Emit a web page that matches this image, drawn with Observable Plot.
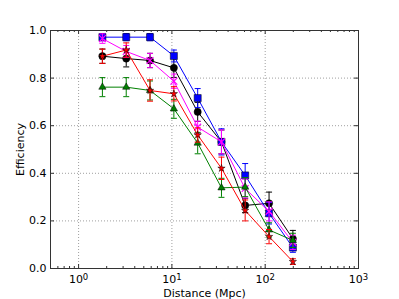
<!DOCTYPE html>
<html>
<head>
<meta charset="utf-8">
<script src="https://cdn.jsdelivr.net/npm/d3@7"></script>
<script src="https://cdn.jsdelivr.net/npm/@observablehq/plot@0.6"></script>
<style>
  html, body { margin: 0; padding: 0; background: #fff; }
  #chart svg { display: block; }
</style>
</head>
<body>
<div id="chart"></div>
<script>
// Distances (Mpc)
const distances = [1.8, 3.24, 5.83, 10.5, 18.9, 34, 61, 110, 198];

// Series values (efficiency) and error bars
const blueVals    = [0.972, 0.972, 0.972, 0.893, 0.716, 0.532, 0.391, 0.232, 0.088];
const blueErr     = [0.015, 0.015, 0.015, 0.025, 0.04, 0.055, 0.05, 0.045, 0.02];
const blackVals   = [0.892, 0.882, 0.874, 0.843, 0.658, 0.532, 0.265, 0.274, 0.125];
const blackErr    = [0.03, 0.035, 0.03, 0.04, 0.04, 0.05, 0.03, 0.047, 0.035];
const magentaVals = [0.966, 0.912, 0.874, 0.787, 0.594, 0.532, 0.336, 0.24, 0.11];
const magentaErr  = [0.02, 0.025, 0.03, 0.03, 0.025, 0.05, 0.04, 0.04, 0.03];
const greenVals   = [0.762, 0.762, 0.748, 0.671, 0.527, 0.339, 0.342, 0.162, 0.118];
const greenErr    = [0.04, 0.04, 0.04, 0.04, 0.045, 0.04, 0.04, 0.03, 0.03];
const redVals     = [0.892, 0.918, 0.748, 0.734, 0.561, 0.421, 0.244, 0.134, 0.029];
const redErr      = [0.03, 0.03, 0.045, 0.03, 0.03, 0.047, 0.044, 0.03, 0.012];

// Tick values
const xMajorTicks = [1, 10, 100, 1000];
const xMinorTicks = [0.6, 0.7, 0.8, 0.9, 2, 3, 4, 5, 6, 7, 8, 9, 20, 30, 40, 50, 60, 70, 80, 90, 200, 300, 400, 500, 600, 700, 800, 900];
const yTicks = [0, 0.2, 0.4, 0.6, 0.8, 1.0];
const xGrid = [1, 10, 100];
const yGrid = [0.2, 0.4, 0.6, 0.8];
const xTickExponents = ["0", "1", "2", "3"];

const series = [
  {name: "black",   color: "#000000", symbol: "circle",   r: 3.6, fill: "#000000", vals: blackVals,   err: blackErr},
  {name: "blue",    color: "#0000ff", symbol: "square",   r: 4.0, fill: "#0000ff", vals: blueVals,    err: blueErr},
  {name: "magenta", color: "#ff00ff", symbol: "times",    r: 3.2, fill: "none",    vals: magentaVals, err: magentaErr},
  {name: "green",   color: "#008000", symbol: "triangle", r: 2.7, fill: "#008000", vals: greenVals,   err: greenErr},
  {name: "red",     color: "#ff0000", symbol: "star",     r: 2.3, fill: "#ff0000", vals: redVals,     err: redErr}
];

const capSymbol = {
  draw(ctx, size) {
    const w = 3;
    ctx.moveTo(-w, 0);
    ctx.lineTo(w, 0);
  }
};

const W = 399, H = 299;
const mL = 50, mR = 41, mT = 30, mB = 31;
const fw = W - mL - mR, fh = H - mT - mB;

const marks = [
  Plot.ruleX(xGrid, {x: d => d, stroke: "#888", strokeDasharray: "1,2", strokeWidth: 0.8}),
  Plot.ruleY(yGrid, {y: d => d, stroke: "#888", strokeDasharray: "1,2", strokeWidth: 0.8}),
  // inward ticks
  Plot.ruleX(xMajorTicks, {x: d => d, insetTop: fh - 4, stroke: "#333"}),
  Plot.ruleX(xMajorTicks, {x: d => d, insetBottom: fh - 4, stroke: "#333"}),
  Plot.ruleX(xMinorTicks, {x: d => d, insetTop: fh - 2, stroke: "#333"}),
  Plot.ruleX(xMinorTicks, {x: d => d, insetBottom: fh - 2, stroke: "#333"}),
  Plot.ruleY(yTicks, {y: d => d, insetRight: fw - 4, stroke: "#333"}),
  Plot.ruleY(yTicks, {y: d => d, insetLeft: fw - 4, stroke: "#333"}),
  Plot.axisX({ticks: xMajorTicks, tickSize: 0, tickPadding: 7,
    tickFormat: d => "10^" + xTickExponents[Math.round(Math.log10(d))],
    label: "Distance (Mpc)", labelAnchor: "center", labelArrow: "none", labelOffset: 28}),
  Plot.axisY({ticks: yTicks, tickSize: 0, tickPadding: 4,
    tickFormat: d3.format(".1f"),
    label: "Efficiency", labelAnchor: "center", labelArrow: "none", labelOffset: 34})
];

for (const s of series) {
  const rows = distances.map((x, i) => ({x, y: s.vals[i], lo: s.vals[i] - s.err[i], hi: s.vals[i] + s.err[i]}));
  marks.push(
    Plot.ruleX(rows, {x: "x", y1: "lo", y2: "hi", stroke: s.color, strokeWidth: 1}),
    Plot.dot(rows, {x: "x", y: "lo", symbol: capSymbol, stroke: s.color, strokeWidth: 1, r: 3}),
    Plot.dot(rows, {x: "x", y: "hi", symbol: capSymbol, stroke: s.color, strokeWidth: 1, r: 3}),
    Plot.line(rows, {x: "x", y: "y", stroke: s.color, strokeWidth: 1}),
    Plot.dot(rows, {x: "x", y: "y", symbol: s.symbol, r: s.r,
      fill: s.fill,
      stroke: s.fill === "none" ? s.color : "#000",
      strokeWidth: s.fill === "none" ? 1.2 : 0.5})
  );
}

marks.push(Plot.frame({stroke: "#333", strokeWidth: 1}));

const chart = Plot.plot({
  width: W, height: H,
  marginLeft: mL, marginRight: mR, marginTop: mT, marginBottom: mB,
  style: {fontFamily: "DejaVu Sans", fontSize: "11px", color: "#000", background: "#fff"},
  x: {type: "log", domain: [0.5, 1000]},
  y: {domain: [0, 1]},
  marks
});

// Render x tick labels as 10 with a raised exponent
d3.select(chart).selectAll("text").each(function() {
  const t = this.textContent;
  const m = /^10\^(\d)$/.exec(t);
  if (m && this.children.length === 0) {
    const sel = d3.select(this);
    sel.text("10");
    sel.append("tspan").attr("dy", "-0.45em").attr("font-size", "8.5px").text(m[1]);
  }
});
document.getElementById("chart").appendChild(chart);
</script>
</body>
</html>
